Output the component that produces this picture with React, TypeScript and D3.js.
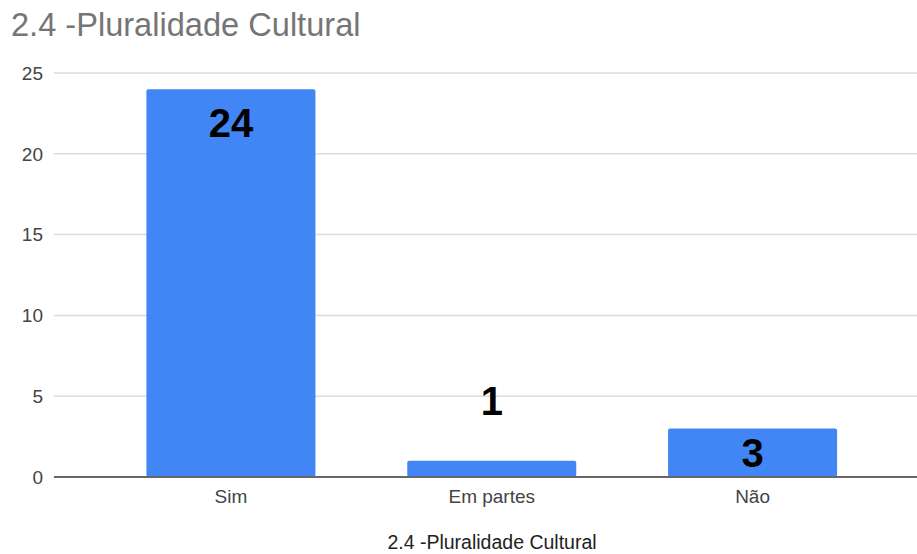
import React from "react";
import * as d3 from "d3";

const categories = ["Sim", "Em partes", "Não"];
const values = [24, 1, 3];
const yTicks = [0, 5, 10, 15, 20, 25];
const chartTitle = "2.4 -Pluralidade Cultural";
const xAxisTitle = "2.4 -Pluralidade Cultural";

const W = 917;
const H = 554;
const FONT = "Arial, 'Liberation Sans', sans-serif";

export default function App() {
  const y = d3.scaleLinear().domain([0, 25]).range([477, 73]);
  const x = d3
    .scaleBand<string>()
    .domain(categories)
    .range([100.5, 883])
    .paddingInner(0.352)
    .paddingOuter(0.176);
  const bw = x.bandwidth();

  return (
    <svg
      width={W}
      height={H}
      style={{ position: "absolute", left: 0, top: 0, background: "#fff" }}
      fontFamily={FONT}
    >
      <text x={11} y={36} fontSize={32.6} fill="#757575">
        {chartTitle}
      </text>
      {yTicks.map((t) => (
        <g key={t}>
          {t !== 0 && (
            <line x1={54} x2={W} y1={y(t)} y2={y(t)} stroke="#dcdcdc" strokeWidth={1.5} />
          )}
          <text x={43} y={y(t)} dy="0.36em" textAnchor="end" fontSize={19} fill="#444">
            {t}
          </text>
        </g>
      ))}
      {categories.map((c, i) => {
        const v = values[i];
        const top = y(v);
        const h = y(0) - top;
        const cx = (x(c) as number) + bw / 2;
        let ly: number;
        if (h > 100) ly = top + 48;
        else if (h > 35) ly = top + h / 2 + 14;
        else ly = top - 46;
        return (
          <g key={c}>
            <rect x={x(c)} y={top} width={bw} height={h} fill="#4285f4" rx={2} />
            <text x={cx} y={ly} textAnchor="middle" fontSize={40} fontWeight="bold" fill="#000">
              {v}
            </text>
            <text x={cx} y={503} textAnchor="middle" fontSize={19} fill="#444">
              {c}
            </text>
          </g>
        );
      })}
      <line x1={54} x2={W} y1={y(0)} y2={y(0)} stroke="#666" strokeWidth={2} />
      <text x={492} y={549} textAnchor="middle" fontSize={19.5} fill="#222">
        {xAxisTitle}
      </text>
    </svg>
  );
}
